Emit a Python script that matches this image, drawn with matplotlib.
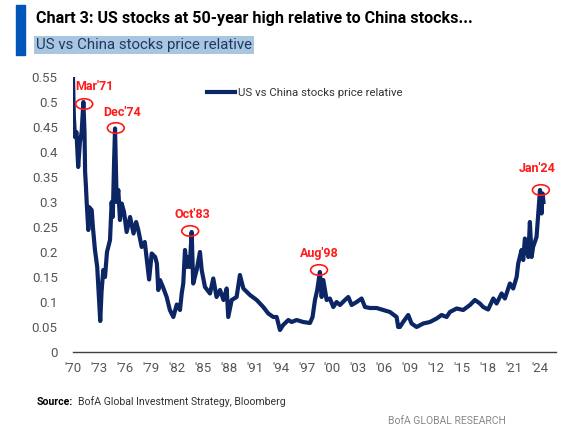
import matplotlib
matplotlib.use("Agg")
import matplotlib.pyplot as plt
from matplotlib.patches import Ellipse, Rectangle

plt.rcParams['font.family'] = ['Roboto', 'DejaVu Sans']

years = [1970.0, 1970.1, 1970.23, 1970.4, 1970.6, 1970.8, 1971.0, 1971.2, 1971.33, 1971.4,
         1971.5, 1971.58, 1971.77, 1971.85, 1972.16, 1972.3, 1972.54, 1972.8, 1973.15, 1973.3,
         1973.5, 1973.7, 1973.93, 1974.28, 1974.47, 1974.6, 1974.75, 1974.86, 1975.05, 1975.24,
         1975.43, 1975.63, 1975.9, 1976.2, 1976.6, 1977.0, 1977.3, 1977.55, 1977.94, 1978.3,
         1978.8, 1979.1, 1979.5, 1979.7, 1979.86, 1980.06, 1980.4, 1980.83, 1981.2, 1981.6,
         1982.0, 1982.37, 1982.57, 1982.75, 1982.95, 1983.15, 1983.35, 1983.5, 1983.72, 1983.9,
         1984.3, 1984.68, 1984.88, 1985.26, 1985.84, 1986.22, 1986.6, 1987.0, 1987.4, 1987.77,
         1987.95, 1988.35, 1988.92, 1989.3, 1989.7, 1990.46, 1991.24, 1992.0, 1992.58, 1993.16,
         1993.55, 1993.93, 1994.3, 1994.9, 1995.28, 1995.86, 1996.62, 1997.4, 1997.7, 1997.98,
         1998.24, 1998.55, 1998.75, 1998.94, 1999.33, 1999.7, 2000.1, 2000.48, 2000.87, 2001.45,
         2001.83, 2002.22, 2002.8, 2003.37, 2003.76, 2004.34, 2005.1, 2005.87, 2006.65, 2007.42,
         2007.6, 2007.8, 2008.17, 2008.76, 2009.15, 2009.73, 2010.5, 2011.27, 2012.05, 2012.62,
         2013.2, 2013.58, 2014.36, 2015.12, 2015.9, 2016.47, 2017.05, 2017.43, 2018.0, 2018.6,
         2018.98, 2019.56, 2019.94, 2020.52, 2020.9, 2021.3, 2021.48, 2021.87, 2022.06, 2022.25,
         2022.64, 2022.83, 2023.03, 2023.2, 2023.6, 2023.8, 2024.0, 2024.18, 2024.3, 2024.4]
relative = [0.548, 0.47, 0.43, 0.44, 0.37, 0.42, 0.44, 0.50, 0.44, 0.36,
            0.33, 0.30, 0.244, 0.29, 0.284, 0.25, 0.204, 0.17, 0.062, 0.12,
            0.164, 0.15, 0.20, 0.224, 0.30, 0.27, 0.38, 0.447, 0.30, 0.324,
            0.264, 0.297, 0.28, 0.24, 0.27, 0.237, 0.26, 0.244, 0.21, 0.22,
            0.145, 0.197, 0.19, 0.177, 0.124, 0.144, 0.13, 0.11, 0.084, 0.07,
            0.095, 0.084, 0.117, 0.137, 0.204, 0.17, 0.19, 0.17, 0.24, 0.137,
            0.164, 0.20, 0.164, 0.13, 0.117, 0.147, 0.11, 0.124, 0.104, 0.127,
            0.07, 0.104, 0.11, 0.154, 0.127, 0.114, 0.104, 0.09, 0.077, 0.07,
            0.07, 0.044, 0.054, 0.064, 0.06, 0.064, 0.06, 0.058, 0.07, 0.104,
            0.124, 0.16, 0.11, 0.144, 0.104, 0.107, 0.09, 0.10, 0.094, 0.104,
            0.11, 0.094, 0.10, 0.107, 0.09, 0.088, 0.088, 0.084, 0.08, 0.07,
            0.05, 0.05, 0.06, 0.074, 0.057, 0.05, 0.057, 0.06, 0.067, 0.074,
            0.07, 0.08, 0.087, 0.084, 0.094, 0.104, 0.097, 0.09, 0.085, 0.107,
            0.097, 0.117, 0.107, 0.137, 0.127, 0.15, 0.177, 0.204, 0.184, 0.227,
            0.19, 0.26, 0.19, 0.21, 0.23, 0.277, 0.324, 0.277, 0.317, 0.30]

tick_years = list(range(1970, 2025, 3))
tick_labels = ["'%02d" % (y % 100) for y in tick_years]
y_ticks = [0, 0.05, 0.1, 0.15, 0.2, 0.25, 0.3, 0.35, 0.4, 0.45, 0.5, 0.55]
y_labels = ['0', '0.05', '0.1', '0.15', '0.2', '0.25', '0.3', '0.35', '0.4', '0.45', '0.5', '0.55']

# highlighted peaks
ann_labels = ["Mar'71", "Dec'74", "Oct'83", "Aug'98", "Jan'24"]
ann_dates = [1971.3, 1974.95, 1983.55, 1998.45, 2024.1]
ann_values = [0.496, 0.448, 0.242, 0.164, 0.324]

NAVY = '#0b2565'
RED = '#ff1a1a'

fig = plt.figure(figsize=(5.76, 4.30), dpi=100)
ax = fig.add_axes([73/576, 1-352/430, (556-73)/576, (352-77)/430])

ax.plot(years, relative, color=NAVY, lw=3.0, solid_joinstyle='round',
        label='US vs China stocks price relative')
ax.set_xlim(1970, 2025.85)
ax.set_ylim(0, 0.55)
ax.set_xticks(tick_years)
ax.set_xticklabels(tick_labels)
ax.set_yticks(y_ticks)
ax.set_yticklabels(y_labels)
for s in ['top', 'right', 'left']:
    ax.spines[s].set_visible(False)
ax.spines['bottom'].set_color('#404040')
ax.spines['bottom'].set_linewidth(1.0)
ax.tick_params(axis='both', length=0, labelsize=9.5, colors='#555555')
ax.tick_params(axis='y', pad=11)
ax.tick_params(axis='x', pad=7)

# label offsets in pixels (dx, dy) relative to ellipse centre
label_offsets = [(10, 17), (6, 16), (2, 16), (0, 16), (-4, 21)]
for lab, xx, yy, (dx, dy) in zip(ann_labels, ann_dates, ann_values, label_offsets):
    e = Ellipse((xx, yy), width=1.95, height=0.021, fill=False, ec=RED, lw=1.2,
                clip_on=False, zorder=4)
    ax.add_patch(e)
    ax.annotate(lab, (xx, yy), xytext=(dx * 0.72, dy * 0.72), textcoords='offset points',
                color=RED, fontsize=9, ha='center', va='center', fontweight='bold')

leg = ax.legend(loc='upper left', bbox_to_anchor=(0.268, 0.975), frameon=False,
                fontsize=8.2, handlelength=2.5, handletextpad=0.25, borderaxespad=0)
for t in leg.get_texts():
    t.set_color('#333333')

# header
fig.patches.append(Rectangle((16/576, 1-55/430), 9/576, 50/430, transform=fig.transFigure,
                             color='#0055b8', zorder=3))
fig.text(36/576, 1-18/430, 'Chart 3: US stocks at 50-year high relative to China stocks...',
         fontsize=11.6, fontweight='bold', color='black', va='center', ha='left')
fig.text(36/576, 1-45/430, 'US vs China stocks price relative', fontsize=10.8,
         color='#1f3864', va='center', ha='left',
         bbox=dict(boxstyle='square,pad=0.12', fc='#a8c6df', ec='none'))

fig.text(37/576, 1-402/430, 'Source:', fontsize=7.6, fontweight='bold', color='black',
         va='center', ha='left')
fig.text(78/576, 1-402/430, 'BofA Global Investment Strategy, Bloomberg', fontsize=7.6,
         color='#333333', va='center', ha='left')
fig.text(506/576, 1-421/430, 'BofA GLOBAL RESEARCH', fontsize=7.5, color='#888888',
         va='center', ha='right')

fig.savefig('out.png', dpi=100)
